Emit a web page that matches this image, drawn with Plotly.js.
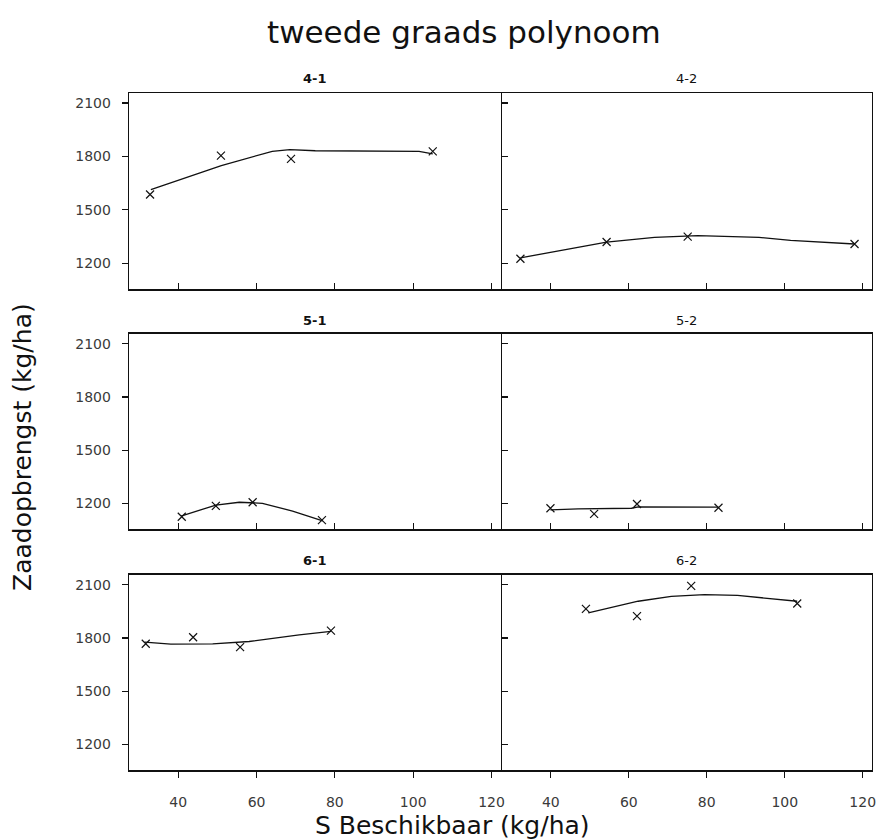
<!DOCTYPE html>
<html>
<head>
<meta charset="utf-8">
<script src="https://cdn.plot.ly/plotly-3.0.1.min.js"></script>
<style>html,body{margin:0;padding:0;background:#fff;}#chart{width:882px;height:840px;}</style>
</head>
<body>
<div id="chart"></div>
<script>
// Panel names
const panelNames = ["4-1", "4-2", "5-1", "5-2", "6-1", "6-2"];

// Observed points (S beschikbaar, zaadopbrengst)
const obs41X = [32.8, 50.9, 68.8, 105.0];
const obs41Y = [1586, 1805, 1786, 1829];
const obs42X = [32.2, 54.3, 75.1, 117.9];
const obs42Y = [1225, 1319, 1349, 1308];
const obs51X = [40.9, 49.6, 59.0, 76.7];
const obs51Y = [1124, 1185, 1206, 1105];
const obs52X = [39.9, 51.1, 62.1, 83.0];
const obs52Y = [1172, 1140, 1196, 1175];
const obs61X = [31.7, 43.8, 55.8, 79.0];
const obs61Y = [1767, 1804, 1748, 1841];
const obs62X = [49.0, 62.1, 76.0, 103.2];
const obs62Y = [1964, 1923, 2094, 1994];

// Fitted curve points
const fit41X = [33.0, 51.0, 64.0, 68.5, 75.0, 101.5, 105.0];
const fit41Y = [1614, 1749, 1829, 1838, 1832, 1829, 1814];
const fit42X = [32.2, 54.3, 66.6, 77.7, 93.4, 101.5, 117.9];
const fit42Y = [1230, 1319, 1345, 1355, 1345, 1328, 1308];
const fit51X = [40.7, 49.6, 55.6, 61.5, 69.2, 76.9];
const fit51Y = [1128, 1190, 1206, 1200, 1156, 1101];
const fit52X = [39.9, 47.0, 60.7, 62.4, 83.0];
const fit52Y = [1163, 1168, 1172, 1180, 1178];
const fit61X = [31.4, 38.1, 48.8, 58.1, 70.9, 79.0];
const fit61Y = [1776, 1765, 1767, 1780, 1817, 1837];
const fit62X = [49.6, 62.4, 70.9, 79.4, 87.9, 95.5, 103.2];
const fit62Y = [1941, 2007, 2034, 2044, 2040, 2022, 2007];

// Tick values / labels
const xTickVals = [40, 60, 80, 100, 120];
const xTickText = ["40", "60", "80", "100", "120"];
const yTickVals = [1200, 1500, 1800, 2100];
const yTickText = ["1200", "1500", "1800", "2100"];

const titleText = "tweede graads polynoom";
const xTitleText = "S Beschikbaar (kg/ha)";
const yTitleText = "Zaadopbrengst (kg/ha)";

const obsX = [obs41X, obs42X, obs51X, obs52X, obs61X, obs62X];
const obsY = [obs41Y, obs42Y, obs51Y, obs52Y, obs61Y, obs62Y];
const fitX = [fit41X, fit42X, fit51X, fit52X, fit61X, fit62X];
const fitY = [fit41Y, fit42Y, fit51Y, fit52Y, fit61Y, fit62Y];

const W = 882, H = 840;
const xDom = [[129.3 / W, 500.5 / W], [502.1 / W, 871.7 / W]];
const yDom = [[1 - 289 / H, 1 - 93.3 / H], [1 - 529 / H, 1 - 334 / H], [1 - 770 / H, 1 - 575 / H]];

const traces = [];
const layout = {
  width: W, height: H,
  margin: {l: 0, r: 0, t: 0, b: 0},
  paper_bgcolor: "#fff", plot_bgcolor: "#fff",
  showlegend: false,
  font: {family: "DejaVu Sans, Arial, sans-serif", color: "#222"},
  annotations: []
};

const tickFont = {family: "DejaVu Sans, sans-serif", size: 14, color: "#3a3a3a"};
for (let i = 0; i < 6; i++) {
  const row = Math.floor(i / 2), col = i % 2;
  const sfx = i === 0 ? "" : String(i + 1);
  traces.push({
    x: fitX[i], y: fitY[i], type: "scatter", mode: "lines",
    line: {color: "#111", width: 1.3},
    xaxis: "x" + sfx, yaxis: "y" + sfx, hoverinfo: "skip"
  });
  traces.push({
    x: obsX[i], y: obsY[i], type: "scatter", mode: "markers",
    marker: {symbol: "x-thin-open", size: 8, color: "#111", line: {color: "#111", width: 1.2}},
    xaxis: "x" + sfx, yaxis: "y" + sfx
  });
  const bottom = row === 2;
  layout["xaxis" + sfx] = {
    domain: xDom[col], range: [27.5, 122.3], anchor: "y" + sfx,
    showline: true, mirror: true, linecolor: "#111", linewidth: 1.6,
    showgrid: false, zeroline: false,
    tickvals: xTickVals, ticktext: xTickText,
    ticks: bottom ? "outside" : "inside", ticklen: 6, tickwidth: 1.2, tickcolor: "#111",
    showticklabels: bottom, tickfont: tickFont, ticklabelstandoff: 13
  };
  layout["yaxis" + sfx] = {
    domain: yDom[row], range: [1055, 2155], anchor: "x" + sfx,
    showline: true, mirror: true, linecolor: "#111", linewidth: 1.6,
    showgrid: false, zeroline: false,
    tickvals: yTickVals, ticktext: yTickText,
    ticks: col === 0 ? "outside" : "inside", ticklen: 6, tickwidth: 1.2, tickcolor: "#111",
    showticklabels: col === 0, tickfont: tickFont, ticklabelstandoff: 8
  };
  const titleY = [78, 320, 560][row];
  layout.annotations.push({
    text: panelNames[i], xref: "paper", yref: "paper",
    x: (xDom[col][0] + xDom[col][1]) / 2, y: 1 - titleY / H,
    xanchor: "center", yanchor: "middle", showarrow: false,
    font: {family: "DejaVu Sans, sans-serif", size: 13, color: "#111", weight: col === 0 ? "bold" : "normal"}
  });
}

layout.annotations.push({
  text: titleText, xref: "paper", yref: "paper", x: 464 / W, y: 1 - 32 / H,
  xanchor: "center", yanchor: "middle", showarrow: false,
  font: {family: "DejaVu Sans, sans-serif", size: 31, color: "#111"}
});
layout.annotations.push({
  text: xTitleText, xref: "paper", yref: "paper", x: 452 / W, y: 1 - 825 / H,
  xanchor: "center", yanchor: "middle", showarrow: false,
  font: {family: "DejaVu Sans, sans-serif", size: 25, color: "#111"}
});
layout.annotations.push({
  text: yTitleText, xref: "paper", yref: "paper", x: 22 / W, y: 1 - 447 / H,
  xanchor: "center", yanchor: "middle", showarrow: false, textangle: -90,
  font: {family: "DejaVu Sans, sans-serif", size: 25, color: "#111"}
});

Plotly.newPlot("chart", traces, layout, {staticPlot: true});
</script>
</body>
</html>
